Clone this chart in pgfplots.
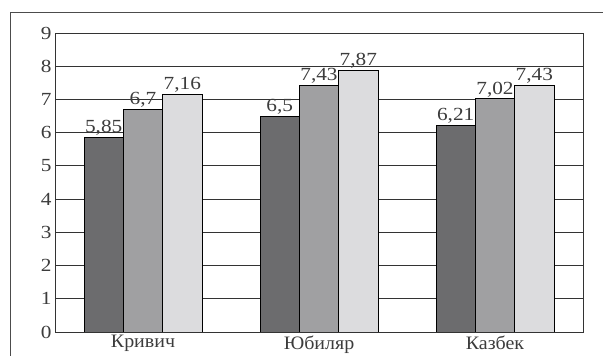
\documentclass[border=0pt]{standalone}
\usepackage{pgfplots}
\pgfplotsset{compat=1.18}
\usepackage{pgfplotstable}
\usepackage{fontspec}
\setmainfont{Liberation Serif}[FakeStretch=1.05]
\newfontfamily\numfont{Liberation Serif}[FakeStretch=1.15]

\definecolor{bardark}{RGB}{108,108,110}
\definecolor{barmid}{RGB}{160,160,162}
\definecolor{barlight}{RGB}{220,220,222}
\definecolor{inkgray}{RGB}{60,60,60}

\pgfplotstableread{
x  s1   s2   s3
0  5.85 6.7  7.16
1  6.5  7.43 7.87
2  6.21 7.02 7.43
}\yields

\begin{document}
\begin{tikzpicture}[x=1pt,y=1pt]
\useasboundingbox (0,0) rectangle (603,356);
% outer frame (open at right and bottom)
\draw[line width=1pt, color=black!70] (10,0) -- (10,343) -- (603,343);
\begin{axis}[
  at={(55pt,24pt)}, anchor=south west,
  scale only axis, width=528pt, height=299pt,
  ybar=0pt, bar width=39.3pt,
  xmin=-0.5, xmax=2.5, ymin=0, ymax=9,
  xtick={0,1,2}, xticklabels={Кривич,Юбиляр,Казбек},
  ytick={0,1,...,9},
  major tick length=0pt,
  ymajorgrids, grid style={line width=0.9pt, color=black!80},
  axis line style={line width=0.9pt, color=black!80},
  xticklabel style={text=inkgray, font=\fontsize{19}{21}\selectfont, yshift=0pt},
  yticklabel style={text=inkgray, font=\numfont\fontsize{18.5}{20}\selectfont},
  /pgf/number format/assume math mode=true,
  /pgf/number format/use comma,
  nodes near coords,
  nodes near coords style={text=inkgray, font=\numfont\fontsize{18.5}{20}\selectfont, inner sep=1.5pt},
  every axis plot/.append style={draw=black, line width=0.8pt},
]
\addplot[fill=bardark] table[x=x,y=s1] {\yields};
\addplot[fill=barmid] table[x=x,y=s2] {\yields};
\addplot[fill=barlight] table[x=x,y=s3] {\yields};
\end{axis}
\end{tikzpicture}
\end{document}
